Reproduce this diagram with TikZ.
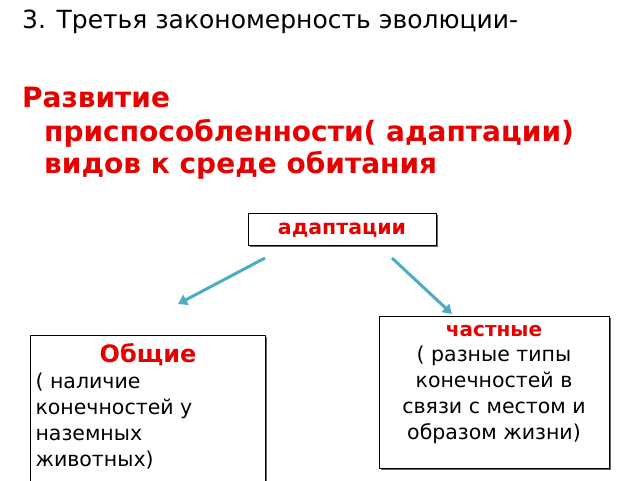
\documentclass[tikz,border=0pt]{standalone}
\usepackage{fontspec}
\setmainfont{DejaVu Sans}
\usetikzlibrary{arrows.meta}
\definecolor{tred}{RGB}{230,0,0}
\definecolor{teal1}{RGB}{75,172,198}
\begin{document}
\begin{tikzpicture}[x=1pt,y=-1pt,
  box/.style={draw=black,line width=1pt,fill=white,inner sep=0pt},
  shad/.style={fill=black!60},
  conn/.style={draw=teal1,line width=3pt,-{Triangle[length=9pt,width=11pt]}},
  lbl/.style={inner sep=0pt,anchor=base west}]
\useasboundingbox (0,0) rectangle (640,480);
\node[lbl,font=\fontsize{25}{28}\selectfont] (t) at (22,28) {3. Третья закономерность эволюции-};
\node[lbl,text=tred,font=\fontsize{28}{30}\selectfont\bfseries] (r1) at (22,107) {Развитие};
\node[lbl,text=tred,font=\fontsize{28}{30}\selectfont\bfseries] (r2) at (44,141) {приспособленности( адаптации)};
\node[lbl,text=tred,font=\fontsize{28}{30}\selectfont\bfseries] (r3) at (44,173) {видов к среде обитания};
% top box
\fill[shad] (249.5,214.5) rectangle (437.5,246.5);
\draw[box] (248,213) rectangle (436,245);
\node[text=tred,font=\fontsize{20.5}{22}\selectfont\bfseries] (ad) at (342,230) {адаптации};
% right box
\fill[shad] (380.5,317.5) rectangle (610.5,469.5);
\draw[box] (379,316) rectangle (609,468);
\node[text=tred,font=\fontsize{20}{22}\selectfont\bfseries] (ch) at (494,331) {частные};
\node[align=center,font=\fontsize{20.5}{26.3}\selectfont,anchor=north] (cht) at (494,342) {( разные типы\\конечностей в\\связи с местом и\\образом жизни)};
% left box
\fill[shad] (31.5,336.5) rectangle (266.5,482);
\draw[box] (30,335) rectangle (265,482);
\node[text=tred,font=\fontsize{24}{26}\selectfont\bfseries] (ob) at (148,355) {Общие};
\node[align=left,font=\fontsize{20.5}{26}\selectfont,anchor=north west] (obt) at (32,369) {( наличие\\конечностей у\\наземных\\животных)};
\coordinate (a1) at (265,258);
\coordinate (b1) at (178,304);
\coordinate (a2) at (392,258);
\coordinate (b2) at (452,314);
\draw[conn] (a1) -- (b1);
\draw[conn] (a2) -- (b2);
\end{tikzpicture}
\end{document}
